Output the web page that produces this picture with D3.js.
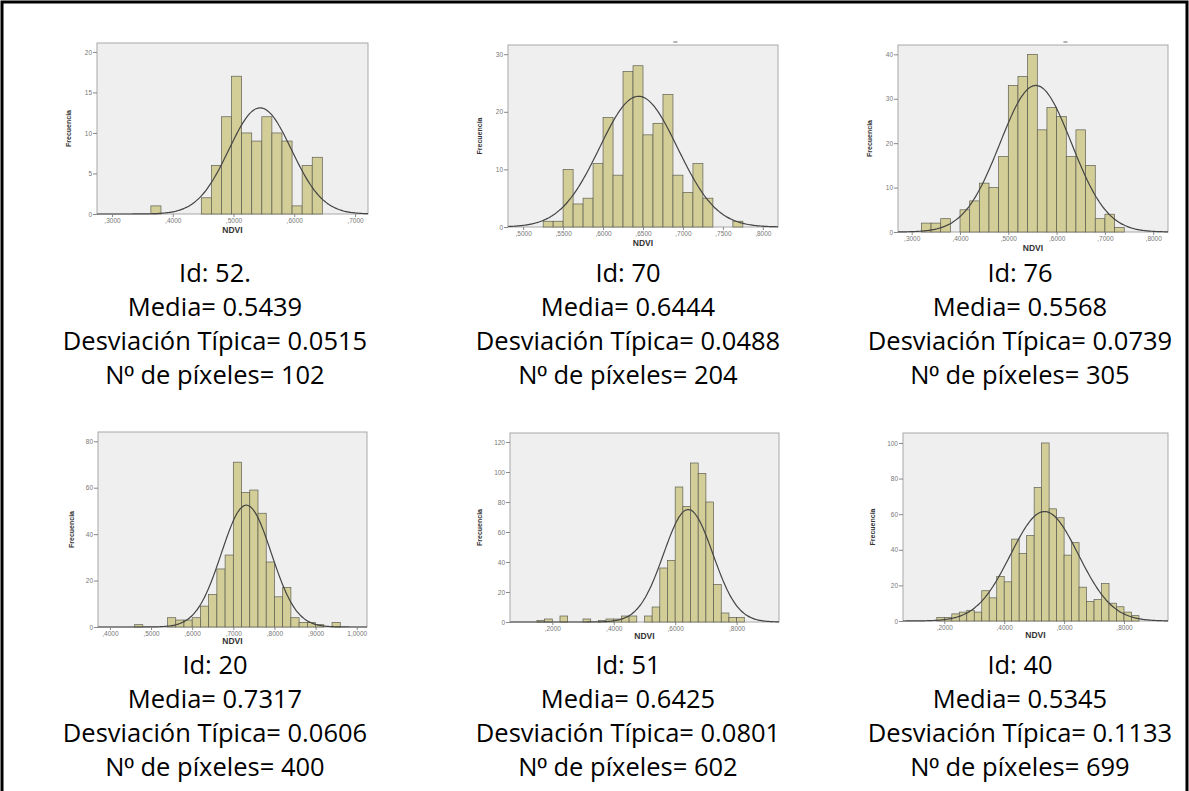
<!DOCTYPE html>
<html lang="es">
<head>
<meta charset="UTF-8">
<title>Histogramas NDVI por parcela</title>
<script src="https://d3js.org/d3.v7.min.js"></script>
<style>
  body { margin: 0; background: #fff; }
  svg { display: block; }
  .caption { font-family: "Open Sans", "Noto Sans", sans-serif; font-size: 25.5px; fill: #000; }
  .caption .ord { font-family: "Liberation Sans", Arial, sans-serif; }
  .tick text { font-family: "Liberation Sans", Arial, sans-serif; font-size: 6.5px; fill: #777; }
  .tick line { stroke: #888; }
  .ylab { font-family: "Liberation Sans Narrow", "Liberation Sans", sans-serif; font-size: 7px; font-weight: bold; fill: #333; }
  .xlab { font-family: "Liberation Sans", Arial, sans-serif; font-size: 8.5px; font-weight: bold; fill: #333; }
</style>
</head>
<body>
<svg width="1189" height="791"></svg>
<script>
const parcelIds = ["52.", "70", "76", "20", "51", "40"];
const means = [0.5439, 0.6444, 0.5568, 0.7317, 0.6425, 0.5345];
const stdDevs = [0.0515, 0.0488, 0.0739, 0.0606, 0.0801, 0.1133];
const pixelCounts = [102, 204, 305, 400, 602, 699];

const binStarts = [0.364, 0.525, 0.32, 0.46, 0.15, 0.175];
const binWidths = [0.0166, 0.0125, 0.02, 0.02, 0.025, 0.025];

const freq52 = [1, 0, 0, 0, 0, 2, 6, 12, 17, 10, 9, 12, 10, 9, 1, 6, 7];
const freq70 = [1, 1, 10, 4, 5, 11, 19, 9, 27, 28, 16, 18, 23, 9, 6, 11, 5, 0, 0, 1];
const freq76 = [2, 2, 3, 0, 5, 7, 11, 10, 17, 33, 35, 40, 23, 28, 26, 17, 23, 15, 3, 4, 1];
const freq20 = [1, 0, 0, 0, 4, 3, 3, 4, 9, 14, 25, 31, 71, 58, 59, 49, 28, 13, 17, 4, 2, 2, 1, 0, 2];
const freq51 = [1, 2, 0, 4, 0, 0, 2, 0, 1, 2, 2, 4, 4, 0, 4, 10, 36, 41, 90, 77, 106, 99, 80, 25, 6, 3, 3];
const freq40 = [2, 2, 4, 5, 6, 5, 17, 13, 25, 22, 46, 38, 48, 75, 100, 63, 58, 37, 44, 19, 11, 12, 21, 10, 8, 5, 3];
const frequencies = [freq52, freq70, freq76, freq20, freq51, freq40];

// altura maxima de la curva normal dibujada por SPSS
const curvePeaks = [13.1, 22.7, 33.0, 52.5, 75.0, 61.5];

const xDomains = [[0.2753, 0.7214], [0.481, 0.819], [0.2716, 0.8306], [0.371, 1.025], [0.0623, 0.938], [0.062, 0.947]];
const yMaxes = [21.1, 31.6, 42.1, 84, 126, 105.6];
const xTicks = [
  [0.3, 0.4, 0.5, 0.6, 0.7],
  [0.5, 0.55, 0.6, 0.65, 0.7, 0.75, 0.8],
  [0.3, 0.4, 0.5, 0.6, 0.7, 0.8],
  [0.4, 0.5, 0.6, 0.7, 0.8, 0.9, 1.0],
  [0.2, 0.4, 0.6, 0.8],
  [0.2, 0.4, 0.6, 0.8]
];
const yTicks = [
  [0, 5, 10, 15, 20],
  [0, 10, 20, 30],
  [0, 10, 20, 30, 40],
  [0, 20, 40, 60, 80],
  [0, 20, 40, 60, 80, 100, 120],
  [0, 20, 40, 60, 80, 100]
];

// posicion de cada panel en la pagina
const layout = [
  { left: 97, top: 43, right: 368, bottom: 214, ylab: 71, textX: 215, textY: 282, mark: false },
  { left: 508, top: 45, right: 778, bottom: 227, ylab: 482, textX: 628, textY: 282, mark: true },
  { left: 898, top: 45, right: 1168, bottom: 232, ylab: 872, textX: 1020, textY: 282, mark: true },
  { left: 98, top: 432, right: 367, bottom: 627, ylab: 74, textX: 215, textY: 674, mark: false },
  { left: 510, top: 433, right: 779, bottom: 622, ylab: 482, textX: 628, textY: 674, mark: false },
  { left: 903, top: 433, right: 1168, bottom: 621, ylab: 875, textX: 1020, textY: 674, mark: false }
];

const svg = d3.select("svg");

// marco exterior
svg.append("path")
  .attr("d", "M2,795V2H1187V795")
  .attr("fill", "none")
  .attr("stroke", "#000")
  .attr("stroke-width", 3);

// ,3000 / 1,0000 como en SPSS
const fmtX = d => d3.format(".4f")(d).replace(/^0\./, ",").replace(".", ",");

parcelIds.forEach((id, i) => {
  const L = layout[i];
  const x = d3.scaleLinear().domain(xDomains[i]).range([L.left, L.right]);
  const y = d3.scaleLinear().domain([0, yMaxes[i]]).range([L.bottom, L.top]);
  const g = svg.append("g");

  g.append("rect")
    .attr("x", L.left).attr("y", L.top)
    .attr("width", L.right - L.left).attr("height", L.bottom - L.top)
    .attr("fill", "#efefef")
    .attr("stroke", "#a8a8a8")
    .attr("stroke-width", 1);

  // resto del titulo recortado sobre el grafico
  if (L.mark) {
    const cx = L.left + (L.right - L.left) * 0.62;
    g.append("line")
      .attr("x1", cx - 2).attr("x2", cx + 2)
      .attr("y1", L.top - 3).attr("y2", L.top - 3)
      .attr("stroke", "#666").attr("stroke-width", 1);
  }

  const bins = frequencies[i]
    .map((c, k) => ({ x0: binStarts[i] + k * binWidths[i], x1: binStarts[i] + (k + 1) * binWidths[i], c }))
    .filter(b => b.c > 0);

  g.selectAll("rect.bar")
    .data(bins)
    .join("rect")
    .attr("class", "bar")
    .attr("x", d => x(d.x0))
    .attr("width", d => x(d.x1) - x(d.x0))
    .attr("y", d => y(d.c))
    .attr("height", d => y(0) - y(d.c))
    .attr("fill", "#d3ce98")
    .attr("stroke", "#5e5e52")
    .attr("stroke-width", 0.7);

  // curva normal
  const m = means[i], s = stdDevs[i], peak = curvePeaks[i];
  const xs = d3.range(0, 201).map(k => xDomains[i][0] + k * (xDomains[i][1] - xDomains[i][0]) / 200);
  const line = d3.line()
    .x(d => x(d))
    .y(d => y(peak * Math.exp(-0.5 * ((d - m) / s) ** 2)))
    .curve(d3.curveBasis);
  g.append("path")
    .datum(xs)
    .attr("d", line)
    .attr("fill", "none")
    .attr("stroke", "#444")
    .attr("stroke-width", 1.2);

  const yAxis = g.append("g")
    .attr("transform", `translate(${L.left},0)`)
    .call(d3.axisLeft(y).tickValues(yTicks[i]).tickSize(4).tickPadding(1).tickFormat(d3.format("d")));
  yAxis.select(".domain").remove();

  const xAxis = g.append("g")
    .attr("transform", `translate(0,${L.bottom})`)
    .call(d3.axisBottom(x).tickValues(xTicks[i]).tickSize(3).tickPadding(1).tickFormat(fmtX));
  xAxis.select(".domain").remove();

  g.append("text")
    .attr("class", "ylab")
    .attr("transform", `translate(${L.ylab},${(L.top + L.bottom) / 2}) rotate(-90)`)
    .attr("text-anchor", "middle")
    .text("Frecuencia");

  g.append("text")
    .attr("class", "xlab")
    .attr("x", (L.left + L.right) / 2)
    .attr("y", L.bottom + (i < 3 ? 19 : 17))
    .attr("text-anchor", "middle")
    .text("NDVI");

  const lines = [
    [`Id: ${id}`],
    [`Media= ${means[i].toFixed(4)}`],
    [`Desviación Típica= ${stdDevs[i].toFixed(4)}`],
    ["N", "º", ` de píxeles= ${pixelCounts[i]}`]
  ];
  const cap = g.selectAll("text.caption")
    .data(lines)
    .join("text")
    .attr("class", "caption")
    .attr("x", L.textX)
    .attr("y", (d, k) => L.textY + k * 34)
    .attr("text-anchor", "middle");
  cap.selectAll("tspan")
    .data(d => d)
    .join("tspan")
    .attr("class", t => t === "º" ? "ord" : null)
    .text(t => t);
});
</script>
</body>
</html>
